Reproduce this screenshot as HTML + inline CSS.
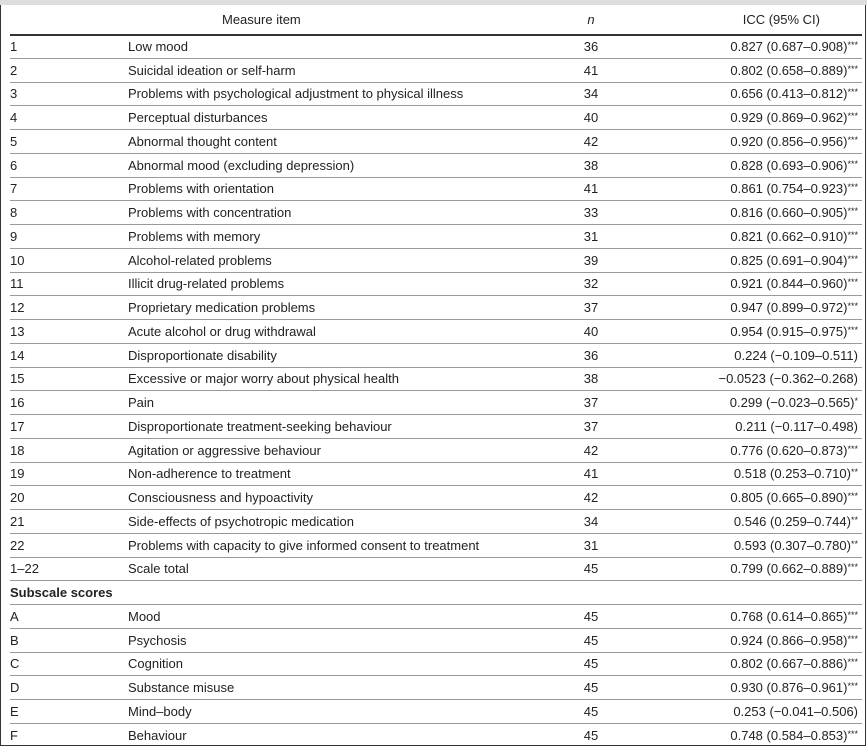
<!DOCTYPE html>
<html><head><meta charset="utf-8"><style>
html,body{margin:0;padding:0;background:#fff;}
body{width:867px;height:748px;position:relative;overflow:hidden;font-family:"Liberation Sans","Noto Sans CJK JP",sans-serif;font-size:13px;color:#222;}
.top{position:absolute;left:0;top:0;width:867px;height:5px;background:#ddd;}
.frame{position:absolute;left:0;top:5px;width:864px;height:740px;border-left:1.5px solid #333;border-right:1.5px solid #333;border-bottom:1.5px solid #333;}
table{position:absolute;left:10px;top:6px;width:852px;border-collapse:collapse;}
td,th{padding:0;font-weight:normal;white-space:nowrap;}
tr{height:23.75px;}
tr.h{height:28.5px;}
tr.h th{border-bottom:2px solid #333;}
tr.r td{border-bottom:1px solid #999;}
td.n,th.n{text-align:center;width:40px;}
td.c,th.c{text-align:right;padding-right:4px;}
sup{font-size:9px;vertical-align:3px;line-height:0;}
</style></head><body>
<div class="top"></div><div class="frame"></div>
<table>
<colgroup><col style="width:118px"><col style="width:443px"><col style="width:40px"><col></colgroup>
<tr class="h"><th></th><th style="text-align:left;padding-left:94px">Measure item</th><th class="n"><i>n</i></th><th class="c" style="padding-right:42px">ICC (95% CI)</th></tr>
<tr class="r"><td>1</td><td>Low mood</td><td class="n">36</td><td class="c">0.827 (0.687–0.908)<sup>***</sup></td></tr>
<tr class="r"><td>2</td><td>Suicidal ideation or self-harm</td><td class="n">41</td><td class="c">0.802 (0.658–0.889)<sup>***</sup></td></tr>
<tr class="r"><td>3</td><td>Problems with psychological adjustment to physical illness</td><td class="n">34</td><td class="c">0.656 (0.413–0.812)<sup>***</sup></td></tr>
<tr class="r"><td>4</td><td>Perceptual disturbances</td><td class="n">40</td><td class="c">0.929 (0.869–0.962)<sup>***</sup></td></tr>
<tr class="r"><td>5</td><td>Abnormal thought content</td><td class="n">42</td><td class="c">0.920 (0.856–0.956)<sup>***</sup></td></tr>
<tr class="r"><td>6</td><td>Abnormal mood (excluding depression)</td><td class="n">38</td><td class="c">0.828 (0.693–0.906)<sup>***</sup></td></tr>
<tr class="r"><td>7</td><td>Problems with orientation</td><td class="n">41</td><td class="c">0.861 (0.754–0.923)<sup>***</sup></td></tr>
<tr class="r"><td>8</td><td>Problems with concentration</td><td class="n">33</td><td class="c">0.816 (0.660–0.905)<sup>***</sup></td></tr>
<tr class="r"><td>9</td><td>Problems with memory</td><td class="n">31</td><td class="c">0.821 (0.662–0.910)<sup>***</sup></td></tr>
<tr class="r"><td>10</td><td>Alcohol-related problems</td><td class="n">39</td><td class="c">0.825 (0.691–0.904)<sup>***</sup></td></tr>
<tr class="r"><td>11</td><td>Illicit drug-related problems</td><td class="n">32</td><td class="c">0.921 (0.844–0.960)<sup>***</sup></td></tr>
<tr class="r"><td>12</td><td>Proprietary medication problems</td><td class="n">37</td><td class="c">0.947 (0.899–0.972)<sup>***</sup></td></tr>
<tr class="r"><td>13</td><td>Acute alcohol or drug withdrawal</td><td class="n">40</td><td class="c">0.954 (0.915–0.975)<sup>***</sup></td></tr>
<tr class="r"><td>14</td><td>Disproportionate disability</td><td class="n">36</td><td class="c">0.224 (−0.109–0.511)</td></tr>
<tr class="r"><td>15</td><td>Excessive or major worry about physical health</td><td class="n">38</td><td class="c">−0.0523 (−0.362–0.268)</td></tr>
<tr class="r"><td>16</td><td>Pain</td><td class="n">37</td><td class="c">0.299 (−0.023–0.565)<sup>*</sup></td></tr>
<tr class="r"><td>17</td><td>Disproportionate treatment-seeking behaviour</td><td class="n">37</td><td class="c">0.211 (−0.117–0.498)</td></tr>
<tr class="r"><td>18</td><td>Agitation or aggressive behaviour</td><td class="n">42</td><td class="c">0.776 (0.620–0.873)<sup>***</sup></td></tr>
<tr class="r"><td>19</td><td>Non-adherence to treatment</td><td class="n">41</td><td class="c">0.518 (0.253–0.710)<sup>**</sup></td></tr>
<tr class="r"><td>20</td><td>Consciousness and hypoactivity</td><td class="n">42</td><td class="c">0.805 (0.665–0.890)<sup>***</sup></td></tr>
<tr class="r"><td>21</td><td>Side-effects of psychotropic medication</td><td class="n">34</td><td class="c">0.546 (0.259–0.744)<sup>**</sup></td></tr>
<tr class="r"><td>22</td><td>Problems with capacity to give informed consent to treatment</td><td class="n">31</td><td class="c">0.593 (0.307–0.780)<sup>**</sup></td></tr>
<tr class="r"><td>1–22</td><td>Scale total</td><td class="n">45</td><td class="c">0.799 (0.662–0.889)<sup>***</sup></td></tr>
<tr class="r"><td colspan="2" style="font-weight:bold">Subscale scores</td><td></td><td></td></tr>
<tr class="r"><td>A</td><td>Mood</td><td class="n">45</td><td class="c">0.768 (0.614–0.865)<sup>***</sup></td></tr>
<tr class="r"><td>B</td><td>Psychosis</td><td class="n">45</td><td class="c">0.924 (0.866–0.958)<sup>***</sup></td></tr>
<tr class="r"><td>C</td><td>Cognition</td><td class="n">45</td><td class="c">0.802 (0.667–0.886)<sup>***</sup></td></tr>
<tr class="r"><td>D</td><td>Substance misuse</td><td class="n">45</td><td class="c">0.930 (0.876–0.961)<sup>***</sup></td></tr>
<tr class="r"><td>E</td><td>Mind–body</td><td class="n">45</td><td class="c">0.253 (−0.041–0.506)</td></tr>
<tr><td>F</td><td>Behaviour</td><td class="n">45</td><td class="c">0.748 (0.584–0.853)<sup>***</sup></td></tr>
</table>
</body></html>
